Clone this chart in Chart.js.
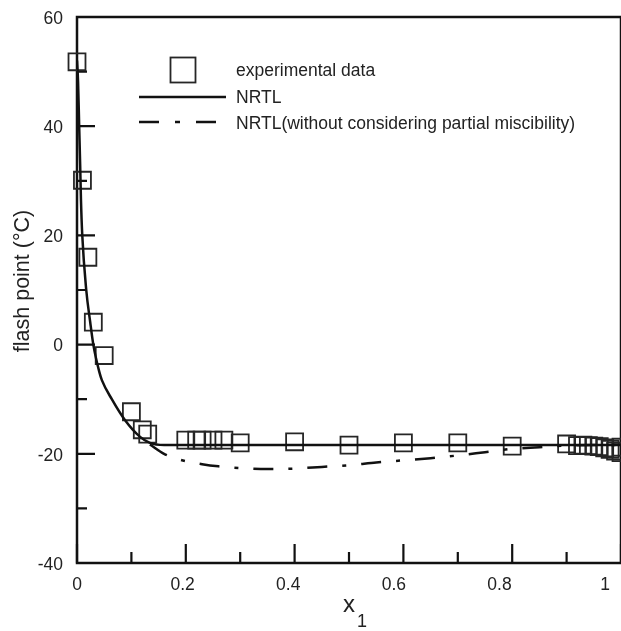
<!DOCTYPE html>
<html>
<head>
<meta charset="utf-8">
<script src="https://cdn.jsdelivr.net/npm/chart.js@4.4.1/dist/chart.umd.min.js"></script>
<style>
html,body{margin:0;padding:0;background:#fff;}
canvas{display:block;}
</style>
</head>
<body>
<canvas id="graph" width="621" height="631"></canvas>
<script>

// experimental flash points
const expX=[0,0.01,0.02,0.03,0.05,0.10,0.12,0.13,0.20,0.22,0.23,0.25,0.27,0.30,0.40,0.50,0.60,0.70,0.80,0.90,0.92,0.93,0.94,0.95,0.96,0.97,0.98,0.99,1.0,1.0];
const expY=[51.8,30.1,16.0,4.1,-2.0,-12.3,-15.6,-16.4,-17.5,-17.5,-17.5,-17.5,-17.5,-18.0,-17.8,-18.4,-18.0,-18.0,-18.6,-18.2,-18.5,-18.4,-18.5,-18.6,-18.7,-18.9,-19.2,-19.5,-19.8,-18.8];

// NRTL curve
const nrtlX=[0,0.002,0.004,0.0058,0.0073,0.0097,0.017,0.0243,0.030,0.041,0.0457,0.064,0.088,0.116,0.134,0.16,0.2,1.0];
const nrtlY=[52,48,40,33,26.5,20,10,4.1,0,-5,-6.5,-10,-13.8,-16.9,-18.0,-18.4,-18.4,-18.4];

// NRTL without partial miscibility
const plainX=[0.134,0.16,0.19,0.23,0.26,0.30,0.35,0.40,0.45,0.50,0.55,0.60,0.65,0.70,0.75,0.80,0.85,0.90,0.95,1.0];
const plainY=[-18.3,-20.0,-21.1,-21.9,-22.3,-22.6,-22.8,-22.7,-22.4,-22.1,-21.6,-21.2,-20.8,-20.3,-19.7,-19.1,-18.8,-18.5,-18.4,-18.4];

const xLabels=[0,0.2,0.4,0.6,0.8,1];
const xMinor=[0.1,0.3,0.5,0.7,0.9];
const yLabels=[-40,-20,0,20,40,60];
const yMinor=[-30,-10,10,30,50];
const seriesNames=["experimental data","NRTL","NRTL(without considering partial miscibility)"];

const FONT="'Liberation Sans', Arial, sans-serif";
const INK="#111";

function pts(xs,ys){
return xs.map((x,i)=>({x:x,y:ys[i]}));
}

function noPad(s){
s.paddingLeft=0;s.paddingRight=0;s.paddingTop=0;s.paddingBottom=0;
}

// box + inward ticks
const frame={
id:'frame',
beforeDatasetsDraw(chart){
const ctx=chart.ctx;
const a=chart.chartArea;
const xs=chart.scales.x, ys=chart.scales.y;
ctx.save();
ctx.strokeStyle=INK;
ctx.lineWidth=2.5;
ctx.strokeRect(a.left,a.top,a.right-a.left,a.bottom-a.top);
ctx.lineWidth=2.2;
ctx.beginPath();
xLabels.forEach(v=>{const p=xs.getPixelForValue(v);ctx.moveTo(p,a.bottom);ctx.lineTo(p,a.bottom-19);});
xMinor.forEach(v=>{const p=xs.getPixelForValue(v);ctx.moveTo(p,a.bottom);ctx.lineTo(p,a.bottom-11);});
yLabels.forEach(v=>{const p=ys.getPixelForValue(v);ctx.moveTo(a.left,p);ctx.lineTo(a.left+18,p);});
yMinor.forEach(v=>{const p=ys.getPixelForValue(v);ctx.moveTo(a.left,p);ctx.lineTo(a.left+10,p);});
ctx.stroke();
ctx.restore();
}
};

// legend and axis titles
const extras={
id:'extras',
afterDraw(chart){
const ctx=chart.ctx;
const ds=chart.data.datasets;
ctx.save();
ctx.fillStyle="#222";
ctx.textBaseline='middle';
ctx.textAlign='left';
ctx.font="17.5px "+FONT;
const rows=[71,98,124];
seriesNames.forEach((t,i)=>ctx.fillText(t,236,rows[i]));

ctx.strokeStyle=ds[0].borderColor;
ctx.lineWidth=1.8;
ctx.strokeRect(170.5,57.5,25,25);

ctx.strokeStyle=ds[1].borderColor;
ctx.lineWidth=ds[1].borderWidth;
ctx.beginPath();ctx.moveTo(139,97);ctx.lineTo(226,97);ctx.stroke();

ctx.strokeStyle=ds[2].borderColor;
ctx.lineWidth=ds[2].borderWidth;
ctx.setLineDash([20,16,5,16]);
ctx.beginPath();ctx.moveTo(139,122);ctx.lineTo(226,122);ctx.stroke();
ctx.setLineDash([]);

// y title
ctx.save();
ctx.translate(23,281);
ctx.rotate(-Math.PI/2);
ctx.textAlign='center';
ctx.font="21.5px "+FONT;
ctx.fillText("flash point (°C)",0,0);
ctx.restore();

// x title with subscript
ctx.textBaseline='alphabetic';
ctx.font="24px "+FONT;
ctx.fillText("x",343,612);
ctx.font="18px "+FONT;
ctx.fillText("1",357,627);
ctx.restore();
}
};

const tickFont={family:FONT,size:17.5};

new Chart(document.getElementById("graph"),{
type:'scatter',
data:{
datasets:[
{
label:seriesNames[0],
data:pts(expX,expY),
pointStyle:'rect',
pointRadius:12,
pointHoverRadius:12,
borderWidth:1.8,
borderColor:"#262626",
backgroundColor:"rgba(0,0,0,0)",
clip:false,
order:2
},
{
label:seriesNames[1],
data:pts(nrtlX,nrtlY),
showLine:true,
pointRadius:0,
borderWidth:2.5,
borderColor:INK,
cubicInterpolationMode:'monotone',
fill:false,
order:1
},
{
label:seriesNames[2],
data:pts(plainX,plainY),
showLine:true,
pointRadius:0,
borderWidth:2.5,
borderColor:INK,
borderDash:[20,15,4,15],
cubicInterpolationMode:'monotone',
fill:false,
order:1
}
]
},
options:{
responsive:false,
animation:false,
devicePixelRatio:1,
layout:{autoPadding:false,padding:{top:17,right:-3,left:0,bottom:0}},
plugins:{legend:{display:false},tooltip:{enabled:false}},
scales:{
x:{
type:'linear',min:0,max:1,
grid:{display:false,drawTicks:false},
border:{display:false},
ticks:{display:false},
afterFit:s=>{s.height=0;noPad(s);}
},
xl:{
type:'linear',position:'bottom',min:0,max:1.03,
grid:{display:false,drawTicks:false},
border:{display:false},
afterBuildTicks:s=>{s.ticks=xLabels.map(v=>({value:v}));},
ticks:{padding:12,font:tickFont,color:"#222",maxRotation:0,callback:v=>String(v)},
afterFit:s=>{s.height=68;noPad(s);}
},
y:{
type:'linear',min:-40,max:60,
grid:{display:false,drawTicks:false},
border:{display:false},
afterBuildTicks:s=>{s.ticks=yLabels.map(v=>({value:v}));},
ticks:{padding:14,labelOffset:2,font:tickFont,color:"#222",callback:v=>String(v)},
afterFit:s=>{s.width=77;noPad(s);}
}
}
},
plugins:[frame,extras]
});

</script>
</body>
</html>
